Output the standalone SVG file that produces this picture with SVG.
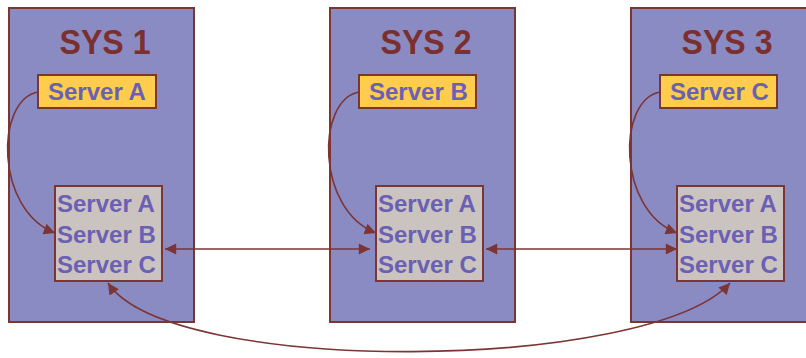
<svg xmlns="http://www.w3.org/2000/svg" width="806" height="358" viewBox="0 0 806 358">
<style>
.sys{fill:#8b8bc4;stroke:#7b3535;stroke-width:2}
.title{font-family:"Liberation Sans",Arial,sans-serif;font-weight:bold;font-size:35px;fill:#7b3030;text-anchor:middle}
.srv{fill:#ffcc4d;stroke:#7b3535;stroke-width:2}
.inner{fill:#cbc3c0;stroke:#7b3535;stroke-width:2}
.lbl{font-family:"Liberation Sans",Arial,sans-serif;font-weight:bold;font-size:24px;fill:#6a60b4}
.con{fill:none;stroke:#7b3535;stroke-width:1.6}
</style>
<defs>
<marker id="ah" viewBox="0 0 10 10" refX="10" refY="5" markerWidth="8" markerHeight="7" markerUnits="strokeWidth" orient="auto-start-reverse">
<path d="M0,0 L10,5 L0,10 Z" fill="#7b3535"/>
</marker>
</defs>
<rect width="806" height="358" fill="#ffffff"/>
<g id="sys1">
<rect class="sys" x="9" y="8" width="185" height="314"/>
<text class="title" x="105" y="54" textLength="91" lengthAdjust="spacingAndGlyphs">SYS 1</text>
</g>
<g id="sys2">
<rect class="sys" x="330" y="8" width="185" height="314"/>
<text class="title" x="426" y="54" textLength="91" lengthAdjust="spacingAndGlyphs">SYS 2</text>
</g>
<g id="sys3">
<rect class="sys" x="631" y="8" width="185" height="314"/>
<text class="title" x="727" y="54" textLength="91" lengthAdjust="spacingAndGlyphs">SYS 3</text>
</g>
<g id="serverA">
<rect class="srv" x="38" y="75" width="118" height="33"/>
<text class="lbl" x="48" y="100">Server A</text>
</g>
<g id="serverB">
<rect class="srv" x="359" y="75" width="117" height="33"/>
<text class="lbl" x="369" y="100">Server B</text>
</g>
<g id="serverC">
<rect class="srv" x="660" y="75" width="117" height="33"/>
<text class="lbl" x="670" y="100">Server C</text>
</g>
<g id="list1">
<rect class="inner" x="55" y="186" width="107" height="95"/>
<text class="lbl" x="57" y="212">Server A</text>
<text class="lbl" x="57" y="243">Server B</text>
<text class="lbl" x="57" y="273">Server C</text>
</g>
<g id="list2">
<rect class="inner" x="376" y="186" width="107" height="95"/>
<text class="lbl" x="378" y="212">Server A</text>
<text class="lbl" x="378" y="243">Server B</text>
<text class="lbl" x="378" y="273">Server C</text>
</g>
<g id="list3">
<rect class="inner" x="677" y="186" width="107" height="95"/>
<text class="lbl" x="679" y="212">Server A</text>
<text class="lbl" x="679" y="243">Server B</text>
<text class="lbl" x="679" y="273">Server C</text>
</g>
<g id="connectors">
<path class="con" d="M38,92 C-5,100 -5,210 55,233" marker-end="url(#ah)"/>
<path class="con" d="M359,92 C316,100 316,210 376,233" marker-end="url(#ah)"/>
<path class="con" d="M660,92 C617,100 617,210 677,233" marker-end="url(#ah)"/>
<path class="con" d="M165,249 L370,249" marker-start="url(#ah)" marker-end="url(#ah)"/>
<path class="con" d="M486,249 L677,249" marker-start="url(#ah)" marker-end="url(#ah)"/>
<path class="con" d="M108,283 C170,377 650,372 730,283" marker-start="url(#ah)" marker-end="url(#ah)"/>
</g>
</svg>
